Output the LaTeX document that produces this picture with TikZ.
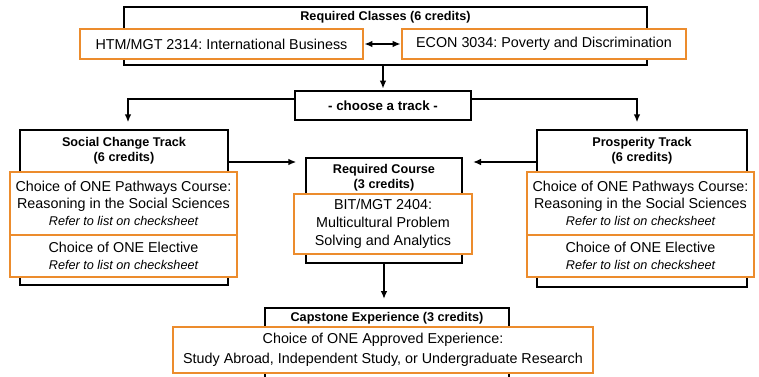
\documentclass[tikz,border=0pt]{standalone}
\usepackage{fontspec}
\setmainfont{Liberation Sans}
\usetikzlibrary{positioning,arrows.meta}
\frenchspacing

\definecolor{pathorange}{RGB}{236,140,45}

\newcommand{\checknote}[1]{{\fontsize{9.5}{11}\selectfont\itshape #1}}

\tikzset{
  outer/.style={draw=black, line width=1.5pt, inner sep=0pt},
  course/.style={draw=pathorange, line width=2pt, fill=white, inner sep=0pt,
    align=center, font=\fontsize{10.75}{12.75}\selectfont},
  head/.style={font=\fontsize{9.5}{11.25}\selectfont\bfseries, align=center, inner sep=0pt},
  link/.style={draw=black, line width=1.2pt},
  >={Latex[length=6pt,width=5pt]}
}

\begin{document}
\begin{tikzpicture}[x=0.75pt, y=-0.75pt]
				\useasboundingbox (0,0) rectangle (759,377);
				\clip (0,0) rectangle (759,377);
				% required classes
				\node[outer, minimum width=392.25pt, minimum height=43.5pt] (classes) at (385.5,36) {};
				\node[head, below=4pt of classes.north] (classeshead) {Required Classes (6 credits)};
				\node[course, minimum width=212.25pt, minimum height=22.5pt] (htm) at (221.5,44) {HTM/MGT 2314: International Business};
				\node[course, minimum width=213pt, minimum height=22.5pt] (econ) at (544,44) {ECON 3034: Poverty and Discrimination};
				\node[outer, minimum width=132pt, minimum height=21.75pt, font=\fontsize{10}{12}\selectfont\bfseries] (choose) at (383,105.5) {- choose a track -};
				% social change track
				\node[outer, minimum width=156pt, minimum height=116.25pt] (social) at (124,207.5) {};
				\node[head, below=6pt of social.north] (socialhead) {Social Change Track\\(6 credits)};
				\node[course, minimum width=170.25pt, minimum height=47.25pt] (socialpath) at (123.5,203.5) {Choice of ONE Pathways Course:\\Reasoning in the Social Sciences\\\checknote{Refer to list on checksheet}};
				\node[course, minimum width=170.25pt, minimum height=31.5pt] (socialelect) at (123.5,256) {Choice of ONE Elective\\\checknote{Refer to list on checksheet}};
				% required course
				\node[outer, minimum width=117pt, minimum height=78.75pt] (req) at (384,210.5) {};
				\node[head, below=5pt of req.north] (reqhead) {Required Course\\(3 credits)};
				\node[course, minimum width=133.5pt, minimum height=45pt, font=\fontsize{10.75}{13.5}\selectfont] (reqcourse) at (383,224) {BIT/MGT 2404:\\Multicultural Problem\\Solving and Analytics};
				% prosperity track
				\node[outer, minimum width=157.5pt, minimum height=117.75pt] (prosp) at (642,208.5) {};
				\node[head, below=6pt of prosp.north] (prosphead) {Prosperity Track\\(6 credits)};
				\node[course, minimum width=170.25pt, minimum height=47.25pt] (prosppath) at (640.5,203.5) {Choice of ONE Pathways Course:\\Reasoning in the Social Sciences\\\checknote{Refer to list on checksheet}};
				\node[course, minimum width=170.25pt, minimum height=31.5pt] (prospelect) at (640.5,256) {Choice of ONE Elective\\\checknote{Refer to list on checksheet}};
				% capstone
				\node[outer, minimum width=183pt, minimum height=69pt] (cap) at (387,354) {};
				\node[head, below=4pt of cap.north] (caphead) {Capstone Experience (3 credits)};
				\node[course, minimum width=315pt, minimum height=34.5pt, font=\fontsize{10.75}{15}\selectfont] (capcourse) at (383,350) {Choice of ONE Approved Experience:\\Study Abroad, Independent Study, or Undergraduate Research};
				% connectors
				\draw[link, <->] (htm.east) -- (econ.west);
				\draw[link, ->, shorten >=1pt] (choose.north |- classes.south) -- (choose.north);
				\draw[link, ->, shorten >=5pt] ([yshift=5pt]choose.west) -| ([xshift=3pt]social.north);
				\draw[link, ->, shorten >=5pt] ([yshift=5pt]choose.east) -| ([xshift=-3.75pt]prosp.north);
				\coordinate (sclink) at ([yshift=-24.75pt]social.north east);
				\coordinate (prlink) at ([yshift=-24.75pt]prosp.north west);
				\draw[link, ->, shorten >=6.5pt] (sclink) -- (sclink -| req.west);
				\draw[link, ->, shorten >=7.5pt] (prlink) -- (prlink -| req.east);
				\draw[link, ->, shorten >=6pt] (req.south) -- (req.south |- cap.north);
			\end{tikzpicture}
\end{document}
